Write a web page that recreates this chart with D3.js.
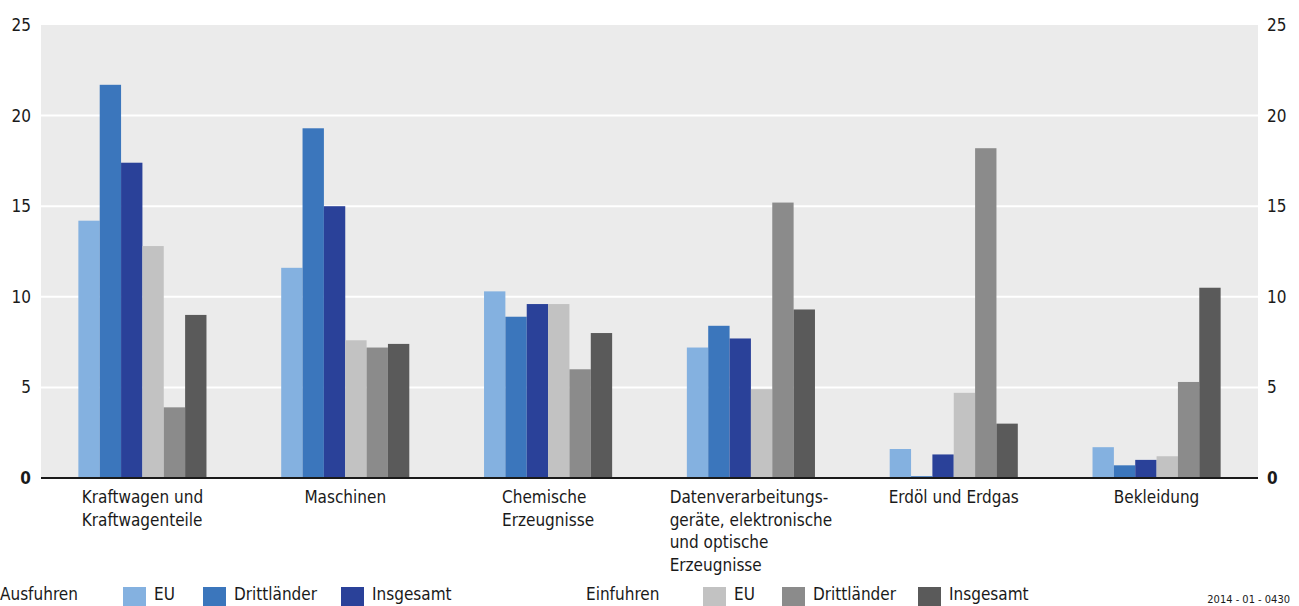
<!DOCTYPE html>
<html>
<head>
<meta charset="utf-8">
<script src="https://cdn.jsdelivr.net/npm/d3@7"></script>
<style>
  html, body { margin: 0; padding: 0; background: #fff; }
  svg { display: block; font-family: "Liberation Sans Narrow", "DejaVu Sans Condensed", sans-serif; }
</style>
</head>
<body>
<svg id="chart" width="1299" height="606"></svg>
<script>
// Warengruppen (Anteile in %)
const categories = [
  ["Kraftwagen und", "Kraftwagenteile"],
  ["Maschinen"],
  ["Chemische", "Erzeugnisse"],
  ["Datenverarbeitungs-", "geräte, elektronische", "und optische", "Erzeugnisse"],
  ["Erdöl und Erdgas"],
  ["Bekleidung"]
];
const seriesNames = ["Ausfuhren EU", "Ausfuhren Drittländer", "Ausfuhren Insgesamt",
                     "Einfuhren EU", "Einfuhren Drittländer", "Einfuhren Insgesamt"];
const ausfuhrenEU          = [14.2, 11.6, 10.3, 7.2, 1.6, 1.7];
const ausfuhrenDrittlaender = [21.7, 19.3, 8.9, 8.4, 0.1, 0.7];
const ausfuhrenInsgesamt   = [17.4, 15.0, 9.6, 7.7, 1.3, 1.0];
const einfuhrenEU          = [12.8, 7.6, 9.6, 4.9, 4.7, 1.2];
const einfuhrenDrittlaender = [3.9, 7.2, 6.0, 15.2, 18.2, 5.3];
const einfuhrenInsgesamt   = [9.0, 7.4, 8.0, 9.3, 3.0, 10.5];
const yTicks = [0, 5, 10, 15, 20, 25];

const seriesValues = [ausfuhrenEU, ausfuhrenDrittlaender, ausfuhrenInsgesamt,
                      einfuhrenEU, einfuhrenDrittlaender, einfuhrenInsgesamt];
const colors = ["#84b1e0", "#3b76bc", "#2a4199", "#c2c2c2", "#8b8b8b", "#5a5a5a"];

const svg = d3.select("#chart");
const plot = { left: 41, right: 1258, top: 25, bottom: 478 };

const catIdx = categories.map((c, i) => i);
const x0 = d3.scaleBand().domain(catIdx).range([plot.left, plot.right]);
const x1 = d3.scaleBand().domain(d3.range(6)).range([0, x0.bandwidth()]).paddingOuter(1.75);
const y = d3.scaleLinear().domain([0, 25]).range([plot.bottom, plot.top]);

// Hintergrund
svg.append("rect")
  .attr("x", plot.left).attr("y", plot.top)
  .attr("width", plot.right - plot.left).attr("height", plot.bottom - plot.top)
  .attr("fill", "#ebebeb");

// Gitterlinien
svg.append("g").selectAll("line")
  .data(yTicks.filter(t => t > 0 && t < 25))
  .join("line")
  .attr("x1", plot.left).attr("x2", plot.right)
  .attr("y1", d => y(d)).attr("y2", d => y(d))
  .attr("stroke", "#fff").attr("stroke-width", 2);

// Balken
const rows = catIdx.map(i => seriesValues.map((s, k) => ({ cat: i, k, v: s[i] })));
svg.append("g").selectAll("g")
  .data(rows)
  .join("g")
  .attr("transform", d => `translate(${x0(d[0].cat)},0)`)
  .selectAll("rect")
  .data(d => d)
  .join("rect")
  .attr("x", d => x1(d.k))
  .attr("width", x1.bandwidth())
  .attr("y", d => y(d.v))
  .attr("height", d => y(0) - y(d.v))
  .attr("fill", d => colors[d.k]);

// Nulllinie
svg.append("line")
  .attr("x1", plot.left).attr("x2", plot.right)
  .attr("y1", y(0)).attr("y2", y(0))
  .attr("stroke", "#1a1a1a").attr("stroke-width", 2);

// Achsen links und rechts
const axisL = d3.axisLeft(y).tickValues(yTicks).tickSize(0).tickPadding(10);
const axisR = d3.axisRight(y).tickValues(yTicks).tickSize(0).tickPadding(9);
[[axisL, plot.left], [axisR, plot.right]].forEach(([ax, xPos]) => {
  const g = svg.append("g").attr("transform", `translate(${xPos},0)`).call(ax);
  g.select(".domain").remove();
  g.selectAll("text")
    .attr("font-family", "Liberation Sans Narrow, DejaVu Sans Condensed, sans-serif")
    .attr("font-size", 17).attr("fill", "#1a1a1a")
    .attr("font-weight", d => d === 0 ? "bold" : "normal");
});

// Kategorienbeschriftung (zentrierter Block, linksbündige Zeilen)
categories.forEach((lines, i) => {
  const t = svg.append("text")
    .attr("font-size", 17).attr("fill", "#1a1a1a")
    .attr("y", 503);
  lines.forEach((ln, j) => {
    t.append("tspan").attr("x", 0).attr("dy", j === 0 ? 0 : 22.5).text(ln);
  });
  const w = t.node().getBBox().width;
  const cx = x0(i) + x0.bandwidth() / 2;
  t.attr("transform", `translate(${cx - w / 2},0)`);
});

// Legende
const legendY = 600;
const legend = svg.append("g").attr("font-size", 17).attr("fill", "#1a1a1a");
legend.append("text").attr("x", 0).attr("y", legendY).text("Ausfuhren");
legend.append("text").attr("x", 586).attr("y", legendY).text("Einfuhren");
const legendItems = [
  { k: 0, sx: 123, label: "EU" },
  { k: 1, sx: 203, label: "Drittländer" },
  { k: 2, sx: 341, label: "Insgesamt" },
  { k: 3, sx: 703, label: "EU" },
  { k: 4, sx: 782, label: "Drittländer" },
  { k: 5, sx: 918, label: "Insgesamt" }
];
legendItems.forEach(it => {
  legend.append("rect").attr("x", it.sx).attr("y", 587)
    .attr("width", 23).attr("height", 19).attr("fill", colors[it.k]);
  legend.append("text").attr("x", it.sx + 31).attr("y", legendY).text(it.label);
});

svg.append("text").attr("x", 1290).attr("y", 603)
  .attr("text-anchor", "end").attr("font-size", 11).attr("fill", "#1a1a1a")
  .text("2014 - 01 - 0430");
</script>
</body>
</html>
